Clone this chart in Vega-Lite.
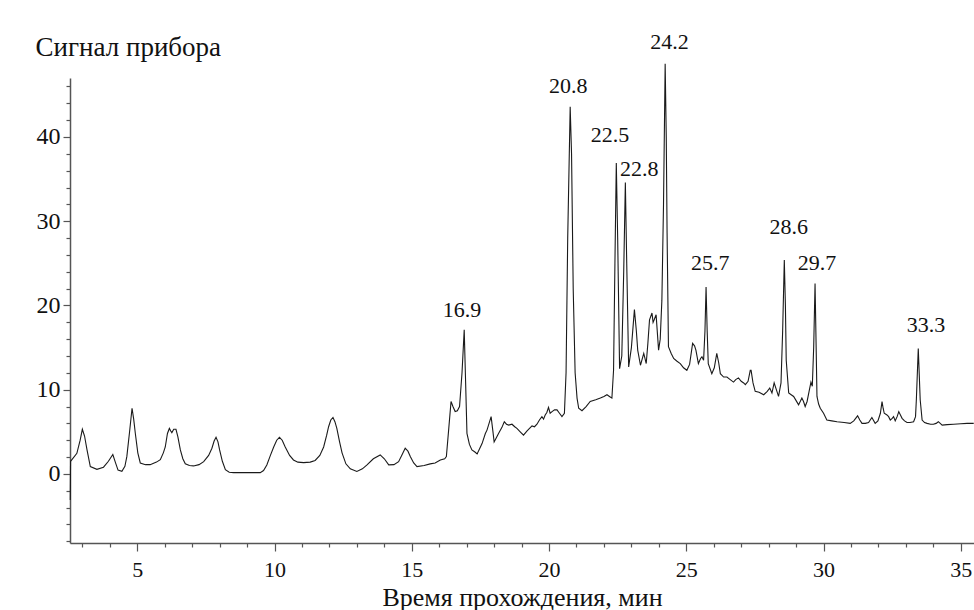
{
  "$schema": "https://vega.github.io/schema/vega-lite/v6.json",
  "width": 904,
  "height": 465,
  "autosize": {"type": "none"},
  "padding": {"left": 70, "top": 78, "right": 0, "bottom": 67},
  "background": "white",
  "config": {"view": {"stroke": null}, "font": "Liberation Serif", "axis": {"labelFont": "Liberation Serif", "titleFont": "Liberation Serif", "grid": false}},
  "datasets": {
    "signal": [
      {"t":2.56,"v":-3.1},{"t":2.57,"v":1.5},{"t":2.62,"v":1.7},{"t":2.80,"v":2.45},{"t":2.92,"v":4.0},{"t":3.00,"v":5.3},{"t":3.08,"v":4.5},{"t":3.17,"v":2.85},{"t":3.29,"v":0.87},{"t":3.53,"v":0.55},{"t":3.77,"v":0.8},{"t":3.95,"v":1.5},{"t":4.11,"v":2.3},{"t":4.20,"v":1.4},{"t":4.30,"v":0.45},{"t":4.44,"v":0.3},{"t":4.55,"v":0.9},{"t":4.62,"v":2.05},{"t":4.72,"v":5.0},{"t":4.81,"v":7.8},{"t":4.87,"v":6.5},{"t":4.93,"v":4.8},{"t":5.02,"v":2.5},{"t":5.11,"v":1.3},{"t":5.30,"v":1.1},{"t":5.47,"v":1.1},{"t":5.70,"v":1.4},{"t":5.84,"v":1.7},{"t":5.95,"v":2.5},{"t":6.02,"v":3.2},{"t":6.10,"v":4.8},{"t":6.17,"v":5.4},{"t":6.22,"v":5.1},{"t":6.26,"v":4.9},{"t":6.33,"v":5.3},{"t":6.41,"v":5.3},{"t":6.48,"v":4.4},{"t":6.57,"v":2.85},{"t":6.66,"v":1.8},{"t":6.75,"v":1.2},{"t":6.90,"v":1.0},{"t":7.05,"v":0.95},{"t":7.25,"v":1.1},{"t":7.42,"v":1.46},{"t":7.60,"v":2.2},{"t":7.72,"v":3.05},{"t":7.80,"v":3.9},{"t":7.87,"v":4.35},{"t":7.94,"v":3.8},{"t":8.00,"v":2.85},{"t":8.10,"v":1.5},{"t":8.21,"v":0.5},{"t":8.35,"v":0.2},{"t":8.51,"v":0.15},{"t":9.00,"v":0.15},{"t":9.48,"v":0.15},{"t":9.60,"v":0.4},{"t":9.72,"v":1.07},{"t":9.85,"v":2.2},{"t":9.97,"v":3.2},{"t":10.08,"v":4.0},{"t":10.18,"v":4.35},{"t":10.28,"v":4.0},{"t":10.39,"v":3.2},{"t":10.55,"v":2.2},{"t":10.69,"v":1.66},{"t":10.85,"v":1.4},{"t":11.06,"v":1.34},{"t":11.30,"v":1.4},{"t":11.48,"v":1.6},{"t":11.65,"v":2.2},{"t":11.79,"v":3.2},{"t":11.90,"v":4.6},{"t":11.97,"v":5.6},{"t":12.05,"v":6.4},{"t":12.13,"v":6.7},{"t":12.20,"v":6.2},{"t":12.27,"v":5.4},{"t":12.37,"v":3.8},{"t":12.46,"v":2.5},{"t":12.60,"v":1.2},{"t":12.76,"v":0.6},{"t":13.00,"v":0.3},{"t":13.20,"v":0.6},{"t":13.37,"v":1.07},{"t":13.60,"v":1.8},{"t":13.85,"v":2.25},{"t":14.00,"v":1.8},{"t":14.16,"v":1.07},{"t":14.35,"v":1.1},{"t":14.52,"v":1.46},{"t":14.65,"v":2.3},{"t":14.76,"v":3.05},{"t":14.86,"v":2.7},{"t":14.95,"v":2.05},{"t":15.07,"v":1.3},{"t":15.19,"v":0.87},{"t":15.45,"v":1.0},{"t":15.67,"v":1.19},{"t":15.85,"v":1.3},{"t":16.04,"v":1.66},{"t":16.20,"v":1.8},{"t":16.26,"v":2.05},{"t":16.35,"v":5.5},{"t":16.43,"v":8.6},{"t":16.50,"v":8.0},{"t":16.58,"v":7.4},{"t":16.66,"v":7.5},{"t":16.74,"v":8.0},{"t":16.83,"v":12.0},{"t":16.91,"v":17.1},{"t":16.96,"v":11.0},{"t":17.01,"v":4.8},{"t":17.10,"v":3.5},{"t":17.19,"v":2.85},{"t":17.30,"v":2.6},{"t":17.38,"v":2.37},{"t":17.47,"v":3.0},{"t":17.56,"v":3.6},{"t":17.68,"v":4.8},{"t":17.74,"v":5.2},{"t":17.89,"v":6.8},{"t":17.95,"v":5.2},{"t":18.00,"v":3.8},{"t":18.08,"v":4.3},{"t":18.16,"v":4.8},{"t":18.28,"v":5.5},{"t":18.37,"v":6.2},{"t":18.45,"v":5.9},{"t":18.53,"v":5.8},{"t":18.65,"v":5.9},{"t":18.75,"v":5.6},{"t":18.83,"v":5.4},{"t":18.95,"v":5.0},{"t":19.07,"v":4.6},{"t":19.20,"v":5.1},{"t":19.38,"v":5.7},{"t":19.47,"v":5.6},{"t":19.56,"v":5.9},{"t":19.65,"v":6.4},{"t":19.74,"v":6.8},{"t":19.80,"v":6.5},{"t":19.86,"v":7.0},{"t":19.92,"v":7.3},{"t":19.98,"v":7.9},{"t":20.04,"v":7.2},{"t":20.11,"v":7.4},{"t":20.20,"v":7.6},{"t":20.29,"v":7.6},{"t":20.38,"v":7.2},{"t":20.47,"v":6.8},{"t":20.56,"v":7.2},{"t":20.62,"v":12.0},{"t":20.68,"v":28.0},{"t":20.77,"v":43.6},{"t":20.82,"v":38.0},{"t":20.88,"v":22.0},{"t":20.95,"v":12.0},{"t":21.02,"v":9.0},{"t":21.08,"v":7.8},{"t":21.20,"v":7.5},{"t":21.35,"v":8.0},{"t":21.50,"v":8.6},{"t":21.70,"v":8.8},{"t":21.87,"v":9.0},{"t":22.00,"v":9.2},{"t":22.11,"v":9.4},{"t":22.20,"v":9.2},{"t":22.29,"v":9.0},{"t":22.35,"v":12.3},{"t":22.40,"v":25.0},{"t":22.45,"v":36.9},{"t":22.50,"v":28.0},{"t":22.57,"v":12.5},{"t":22.65,"v":14.0},{"t":22.72,"v":24.0},{"t":22.78,"v":34.6},{"t":22.83,"v":25.0},{"t":22.90,"v":12.7},{"t":23.00,"v":15.0},{"t":23.11,"v":19.5},{"t":23.18,"v":17.0},{"t":23.23,"v":14.7},{"t":23.33,"v":12.9},{"t":23.45,"v":14.3},{"t":23.54,"v":13.1},{"t":23.60,"v":15.5},{"t":23.66,"v":18.3},{"t":23.75,"v":19.1},{"t":23.79,"v":18.0},{"t":23.83,"v":18.3},{"t":23.90,"v":18.9},{"t":23.99,"v":14.7},{"t":24.05,"v":16.0},{"t":24.11,"v":20.6},{"t":24.17,"v":32.0},{"t":24.23,"v":48.7},{"t":24.27,"v":40.0},{"t":24.30,"v":28.6},{"t":24.35,"v":15.1},{"t":24.45,"v":14.3},{"t":24.54,"v":13.7},{"t":24.65,"v":13.4},{"t":24.78,"v":13.1},{"t":24.90,"v":12.6},{"t":25.02,"v":12.3},{"t":25.12,"v":13.0},{"t":25.23,"v":15.5},{"t":25.30,"v":15.2},{"t":25.35,"v":14.7},{"t":25.44,"v":13.1},{"t":25.52,"v":13.7},{"t":25.57,"v":13.9},{"t":25.63,"v":13.5},{"t":25.68,"v":17.0},{"t":25.72,"v":22.2},{"t":25.76,"v":17.0},{"t":25.80,"v":13.1},{"t":25.93,"v":11.9},{"t":26.02,"v":12.6},{"t":26.11,"v":14.3},{"t":26.18,"v":13.2},{"t":26.24,"v":11.9},{"t":26.36,"v":11.5},{"t":26.48,"v":11.5},{"t":26.60,"v":11.2},{"t":26.72,"v":10.9},{"t":26.80,"v":11.2},{"t":26.90,"v":11.4},{"t":27.00,"v":11.0},{"t":27.09,"v":10.8},{"t":27.15,"v":10.6},{"t":27.25,"v":11.0},{"t":27.33,"v":12.3},{"t":27.36,"v":12.3},{"t":27.43,"v":10.8},{"t":27.51,"v":9.8},{"t":27.65,"v":9.7},{"t":27.82,"v":9.4},{"t":27.95,"v":9.8},{"t":28.04,"v":10.2},{"t":28.12,"v":9.6},{"t":28.20,"v":10.8},{"t":28.28,"v":10.0},{"t":28.36,"v":9.2},{"t":28.45,"v":10.8},{"t":28.51,"v":17.0},{"t":28.57,"v":25.4},{"t":28.61,"v":20.0},{"t":28.64,"v":13.5},{"t":28.73,"v":9.6},{"t":28.82,"v":9.4},{"t":28.91,"v":9.2},{"t":29.00,"v":8.7},{"t":29.09,"v":8.2},{"t":29.15,"v":8.6},{"t":29.21,"v":9.0},{"t":29.27,"v":8.6},{"t":29.33,"v":8.0},{"t":29.40,"v":8.6},{"t":29.46,"v":9.6},{"t":29.54,"v":10.9},{"t":29.59,"v":10.4},{"t":29.64,"v":15.0},{"t":29.69,"v":22.6},{"t":29.73,"v":15.0},{"t":29.76,"v":9.2},{"t":29.82,"v":8.3},{"t":29.88,"v":7.8},{"t":30.00,"v":7.2},{"t":30.12,"v":6.4},{"t":30.30,"v":6.3},{"t":30.49,"v":6.2},{"t":30.75,"v":6.1},{"t":30.97,"v":6.0},{"t":31.10,"v":6.3},{"t":31.24,"v":6.9},{"t":31.32,"v":6.4},{"t":31.40,"v":6.0},{"t":31.52,"v":6.0},{"t":31.64,"v":6.1},{"t":31.76,"v":6.7},{"t":31.88,"v":6.0},{"t":31.98,"v":6.3},{"t":32.07,"v":7.2},{"t":32.13,"v":8.6},{"t":32.17,"v":7.8},{"t":32.21,"v":7.2},{"t":32.31,"v":7.0},{"t":32.37,"v":6.8},{"t":32.43,"v":6.4},{"t":32.50,"v":6.6},{"t":32.55,"v":6.8},{"t":32.61,"v":6.3},{"t":32.68,"v":6.8},{"t":32.74,"v":7.4},{"t":32.80,"v":7.0},{"t":32.86,"v":6.6},{"t":32.95,"v":6.3},{"t":33.04,"v":6.1},{"t":33.15,"v":6.1},{"t":33.28,"v":6.2},{"t":33.35,"v":6.8},{"t":33.38,"v":8.8},{"t":33.45,"v":14.9},{"t":33.52,"v":8.8},{"t":33.59,"v":6.4},{"t":33.68,"v":6.1},{"t":33.77,"v":6.0},{"t":33.90,"v":5.9},{"t":34.00,"v":5.9},{"t":34.10,"v":6.0},{"t":34.18,"v":6.2},{"t":34.25,"v":6.0},{"t":34.32,"v":5.8},{"t":34.50,"v":5.85},{"t":34.74,"v":5.9},{"t":35.00,"v":5.95},{"t":35.23,"v":6.0},{"t":35.47,"v":6.0}
    ],
    "peaks": [
      {"t":16.83,"v":18.66,"label":"16.9"},
      {"t":20.70,"v":45.2,"label":"20.8"},
      {"t":22.22,"v":39.42,"label":"22.5"},
      {"t":23.29,"v":35.35,"label":"22.8"},
      {"t":24.39,"v":50.5,"label":"24.2"},
      {"t":25.87,"v":24.2,"label":"25.7"},
      {"t":28.73,"v":28.43,"label":"28.6"},
      {"t":29.76,"v":24.2,"label":"29.7"},
      {"t":33.73,"v":16.88,"label":"33.3"}
    ]
  },
  "resolve": {"axis": {"x": "independent", "y": "independent"}},
  "layer": [
    {
      "data": {"name": "signal"},
      "mark": {"type": "line", "color": "#1a1a1a", "strokeWidth": 1.1},
      "encoding": {
        "x": {
          "field": "t", "type": "quantitative",
          "scale": {"domain": [2.55, 35.48], "nice": false, "zero": false},
          "axis": {
            "orient": "bottom", "title": null, "labels": false,
            "values": [3,4,6,7,8,9,11,12,13,14,16,17,18,19,21,22,23,24,26,27,28,29,31,32,33,34],
            "tickSize": 4, "domain": true,
            "domainColor": "#555", "domainWidth": 1.5, "tickColor": "#555", "tickWidth": 1.2
          }
        },
        "y": {
          "field": "v", "type": "quantitative",
          "scale": {"domain": [-8.2, 47], "nice": false, "zero": false},
          "axis": {
            "orient": "left", "title": null, "labels": false,
            "values": [-8,-6,-4,-2,2,4,6,8,12,14,16,18,22,24,26,28,32,34,36,38,42,44,46],
            "tickSize": 4, "domain": true,
            "domainColor": "#555", "domainWidth": 1.5, "tickColor": "#555", "tickWidth": 1.2
          }
        }
      }
    },
    {
      "data": {"name": "peaks"},
      "mark": {"type": "text", "font": "Liberation Serif", "fontSize": 22, "align": "center", "baseline": "alphabetic", "color": "#111"},
      "encoding": {
        "x": {
          "field": "t", "type": "quantitative",
          "axis": {
            "orient": "bottom",
            "title": "Время прохождения, мин",
            "values": [5,10,15,20,25,30,35],
            "tickSize": 8, "domain": false,
            "labelPadding": 8,
            "labelFont": "Liberation Serif", "labelFontSize": 22, "labelColor": "#111",
            "labelFlush": false, "labelOverlap": false,
            "tickColor": "#555", "tickWidth": 1.2,
            "titleFont": "Liberation Serif", "titleFontSize": 26, "titleFontWeight": "normal", "titleColor": "#111",
            "titleBaseline": "alphabetic", "titleAlign": "center", "titleX": 452, "titleY": 62
          }
        },
        "y": {
          "field": "v", "type": "quantitative",
          "axis": {
            "orient": "left",
            "title": "Сигнал прибора",
            "titleAngle": 0, "titleAlign": "left", "titleBaseline": "alphabetic", "titleX": -35, "titleY": -23,
            "titleFont": "Liberation Serif", "titleFontSize": 27, "titleFontWeight": "normal", "titleColor": "#111",
            "values": [0,10,20,30,40],
            "tickSize": 7, "domain": false,
            "labelPadding": 3,
            "labelFont": "Liberation Serif", "labelFontSize": 24, "labelColor": "#111",
            "labelFlush": false, "labelOverlap": false,
            "tickColor": "#555", "tickWidth": 1.2
          }
        },
        "text": {"field": "label"}
      }
    }
  ]
}
